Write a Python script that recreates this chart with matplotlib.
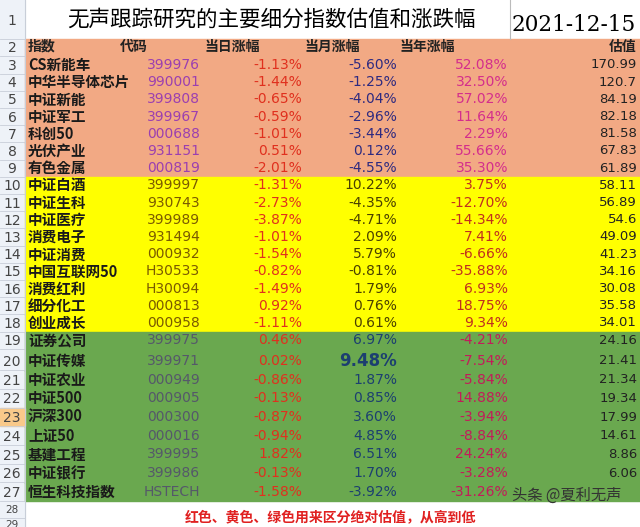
import matplotlib
matplotlib.use("Agg")
import matplotlib.pyplot as plt
from matplotlib.patches import Rectangle
from matplotlib import font_manager as fm

cjk = None
cjkb = None
for f in fm.findSystemFonts():
    fn = f.replace(" ", "")
    if "SansCJK" in fn and "Regular" in fn and cjk is None:
        cjk = f
    if "SansCJK" in fn and "Bold" in fn and cjkb is None:
        cjkb = f
if cjk is None:
    for f in fm.findSystemFonts():
        if "CJK" in f and "Sans" in f:
            cjk = f
            break
if cjk is None:
    for f in fm.findSystemFonts():
        if "CJK" in f:
            cjk = f
            break
cjkb = cjkb or cjk

def FP(size, bold=False):
    return fm.FontProperties(fname=cjkb if bold else cjk, size=size)

title = "无声跟踪研究的主要细分指数估值和涨跌幅"
date = "2021-12-15"
headers = ["指数", "代码", "当日涨幅", "当月涨幅", "当年涨幅", "估值"]
names = ["CS新能车", "中华半导体芯片", "中证新能", "中证军工", "科创50", "光伏产业", "有色金属",
         "中证白酒", "中证生科", "中证医疗", "消费电子", "中证消费", "中国互联网50", "消费红利", "细分化工", "创业成长",
         "证券公司", "中证传媒", "中证农业", "中证500", "沪深300", "上证50", "基建工程", "中证银行", "恒生科技指数"]
codes = ["399976", "990001", "399808", "399967", "000688", "931151", "000819",
         "399997", "930743", "399989", "931494", "000932", "H30533", "H30094", "000813", "000958",
         "399975", "399971", "000949", "000905", "000300", "000016", "399995", "399986", "HSTECH"]
day = [-1.13, -1.44, -0.65, -0.59, -1.01, 0.51, -2.01,
       -1.31, -2.73, -3.87, -1.01, -1.54, -0.82, -1.49, 0.92, -1.11,
       0.46, 0.02, -0.86, -0.13, -0.87, -0.94, 1.82, -0.13, -1.58]
month = [-5.60, -1.25, -4.04, -2.96, -3.44, 0.12, -4.55,
         10.22, -4.35, -4.71, 2.09, 5.79, -0.81, 1.79, 0.76, 0.61,
         6.97, 9.48, 1.87, 0.85, 3.60, 4.85, 6.51, 1.70, -3.92]
year = [52.08, 32.50, 57.02, 11.64, 2.29, 55.66, 35.30,
        3.75, -12.70, -14.34, 7.41, -6.66, -35.88, 6.93, 18.75, 9.34,
        -4.21, -7.54, -5.84, 14.88, -3.94, -8.84, 24.24, -3.28, -31.26]
valuation = ["170.99", "120.7", "84.19", "82.18", "81.58", "67.83", "61.89",
             "58.11", "56.89", "54.6", "49.09", "41.23", "34.16", "30.08", "35.58", "34.01",
             "24.16", "21.41", "21.34", "19.34", "17.99", "14.61", "8.86", "6.06", ""]
groups = [0]*7 + [1]*9 + [2]*9
footnote = "红色、黄色、绿色用来区分绝对估值，从高到低"

bg = ["#F2A984", "#FFFF00", "#6AA84F"]
code_c = ["#9B3FB0", "#7A5A00", "#55586A"]
month_c = ["#2E2A80", "#4A4000", "#1C3F70"]
year_c = ["#D42E8C", "#C0301E", "#C21C5A"]

fig = plt.figure(figsize=(6.4, 5.27), dpi=100)
ax = fig.add_axes([0, 0, 1, 1])
ax.set_xlim(0, 640); ax.set_ylim(527, 0); ax.axis("off")

def yc(r):
    if r == 1: return 20
    if r == 2: return 47
    if r <= 19: return 65 + (r - 3) * 17.2
    if r == 20: return 361
    if r <= 27: return 361 + (r - 20) * 18.7
    return 509 + (r - 28) * 15
def bounds(r):
    if r == 1: return 0, 39
    if r == 2: return 39, 56
    if r <= 19:
        t = 56.4 + (r - 3) * 17.2; return t, t + 17.2
    if r == 20: return 348.8, 370.2
    if r <= 27:
        t = 370.2 + (r - 21) * 18.7; return t, t + 18.7
    t = 500.5 + (r - 28) * 17; return t, t + 17

ax.add_patch(Rectangle((0, 0), 25, 527, color="#EEF2F8", zorder=0))
for r in range(1, 30):
    t, b = bounds(r)
    if r == 23:
        ax.add_patch(Rectangle((0, t), 25, b - t, color="#F9C98A", zorder=1))
    ax.text(12, yc(r) + 1, str(r), ha="center", va="center",
            fontsize=10 if r < 28 else 7.5, color="#444", zorder=2)
    ax.plot([0, 25], [b, b], color="#C8CED8", lw=0.6)
ax.plot([25, 25], [0, 527], color="#C8CED8", lw=0.8)

ax.text(67, 20, title, ha="left", va="center", fontproperties=FP(15.5))
ax.plot([510, 510], [0, 39], color="#BBBBBB", lw=0.8)
ax.text(636, 25, date, ha="right", va="center", fontsize=15.5, fontfamily="DejaVu Serif")

t, b = bounds(2)
ax.add_patch(Rectangle((25, t), 615, b - t, color=bg[0], zorder=0))
hx = [28, 120, 205, 305, 400, 637]
ha = ["left", "left", "left", "left", "left", "right"]
for h, x, a in zip(headers, hx, ha):
    ax.text(x, yc(2), h, ha=a, va="center", fontproperties=FP(10, True), color="#222")

clip = Rectangle((25, 40), 127, 480, transform=ax.transData, visible=False)
ax.add_patch(clip)

for i in range(len(names)):
    r = i + 3
    y = yc(r)
    g = groups[i]
    t, b = bounds(r)
    ax.add_patch(Rectangle((25, t), 615, b - t + 0.4, color=bg[g], zorder=0))
    tx = ax.text(28, y, names[i], ha="left", va="center", fontproperties=FP(10.5, True), color="#1A1A1A")
    tx.set_clip_path(clip)
    ax.text(200, y, codes[i], ha="right", va="center", fontsize=10, color=code_c[g])
    ax.text(302, y, f"{day[i]:.2f}%", ha="right", va="center", fontsize=10, color="#E0301E")
    big = (names[i] == "中证传媒")
    ax.text(397, y, f"{month[i]:.2f}%", ha="right", va="center",
            fontsize=12 if big else 10, fontweight="bold" if big else "normal", color=month_c[g])
    ax.text(508, y, f"{year[i]:.2f}%", ha="right", va="center", fontsize=10, color=year_c[g])
    ax.text(637, y, valuation[i], ha="right", va="center", fontsize=9.5, color="#222")

ax.text(185, 517, footnote, ha="left", va="center", fontproperties=FP(10, True), color="#E02020")
ax.text(512, 495, "头条 @夏利无声", ha="left", va="center", fontproperties=FP(11), color="#333")

fig.savefig("out.png", dpi=100)
